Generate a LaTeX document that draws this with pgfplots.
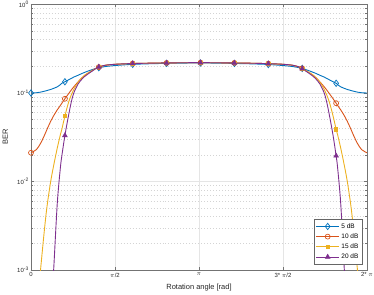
\documentclass[border=0pt]{standalone}
\usepackage{pgfplots}
\pgfplotsset{compat=1.18}
\usepackage{pgfplotstable}
\usepackage{fontspec}
\setmainfont{Liberation Sans}
\definecolor{c1}{rgb}{0,0.447,0.741}
\definecolor{c2}{rgb}{0.85,0.325,0.098}
\definecolor{c3}{rgb}{0.929,0.694,0.125}
\definecolor{c4}{rgb}{0.494,0.184,0.556}
\pgfplotstableread{
t s5 s10 s15 s20
0      0.1000 0.02113 1e-4     1e-8
0.1    0.1007 0.02291 3.16e-4  1e-7
0.178  0.1023 0.02692 0.001    1e-6
0.25   0.1047 0.03311 0.002818 1e-5
0.3    0.1067 0.03890 0.005248 3.98e-5
0.368  0.1096 0.04786 0.01     2.51e-4
0.43   0.1132 0.05623 0.01585  0.001175
0.492  0.1175 0.06457 0.02399  0.005754
0.55   0.1245 0.07244 0.03388  0.01445
0.577  0.1288 0.07674 0.03890  0.01950
0.634  0.1340 0.0861  0.05495  0.03311
0.7    0.1406 0.09772 0.07762  0.05495
0.754  0.1462 0.1084  0.09550  0.07943
0.8    0.1514 0.1175  0.1096   0.1
0.879  0.1585 0.1334  0.1318   0.1259
0.95   0.1660 0.1479  0.1479   0.1429
1.0    0.1706 0.1567  0.1585   0.1531
1.066  0.1770 0.1679  0.1679   0.1641
1.15   0.1841 0.1799  0.1799   0.1778
1.211  0.1897 0.1897  0.1897   0.1884
1.268  0.1932 0.1963  0.1972   0.1972
1.4    0.1995 0.2061  0.2065   0.2065
1.6    0.2051 0.2113  0.2118   0.2118
1.845  0.2099 0.2148  0.2148   0.2148
1.902  0.2109 0.2153  0.2153   0.2153
2.2    0.2138 0.2173  0.2173   0.2173
2.479  0.2158 0.2188  0.2188   0.2188
2.536  0.2163 0.2188  0.2188   0.2188
2.85   0.2178 0.2198  0.2198   0.2198
3.113  0.2183 0.2203  0.2203   0.2203
3.1416 0.2183 0.2203  0.2203   0.2203
3.170  0.2183 0.2203  0.2203   0.2203
3.433  0.2178 0.2198  0.2198   0.2198
3.747  0.2163 0.2188  0.2188   0.2188
3.804  0.2158 0.2188  0.2188   0.2188
4.083  0.2138 0.2173  0.2173   0.2173
4.381  0.2109 0.2153  0.2153   0.2153
4.438  0.2099 0.2148  0.2148   0.2148
4.683  0.2051 0.2113  0.2118   0.2118
4.883  0.1995 0.2061  0.2065   0.2065
5.015  0.1932 0.1963  0.1972   0.1972
5.072  0.1897 0.1897  0.1897   0.1884
5.133  0.1841 0.1799  0.1799   0.1778
5.217  0.1770 0.1679  0.1679   0.1641
5.283  0.1706 0.1567  0.1585   0.1531
5.333  0.1660 0.1479  0.1479   0.1429
5.404  0.1585 0.1334  0.1318   0.1259
5.483  0.1514 0.1175  0.1096   0.1
5.529  0.1462 0.1084  0.09550  0.07943
5.583  0.1406 0.09772 0.07762  0.05495
5.649  0.1340 0.0861  0.05495  0.03311
5.706  0.1288 0.07674 0.03890  0.01950
5.733  0.1245 0.07244 0.03388  0.01445
5.791  0.1175 0.06457 0.02399  0.005754
5.853  0.1132 0.05623 0.01585  0.001175
5.915  0.1096 0.04786 0.01     2.51e-4
5.983  0.1067 0.03890 0.005248 3.98e-5
6.033  0.1047 0.03311 0.002818 1e-5
6.105  0.1023 0.02692 0.001    1e-6
6.183  0.1007 0.02291 3.16e-4  1e-7
6.2832 0.1000 0.02113 1e-4     1e-8
}\data
\begin{document}
\begin{tikzpicture}
\path[use as bounding box] (-31bp,-25bp) rectangle (343bp,270bp);
\begin{axis}[
  scale only axis, width=336bp, height=265.5bp,
  at={(0,0)}, anchor=south west,
  xmin=0, xmax=6.2832, ymode=log, ymin=1e-3, ymax=1,
  xtick={0,1.5708,3.1416,4.7124,6.2832},
  xticklabels={0,$\pi$/2,$\pi$,3*~$\pi$/2,2*~$\pi$},
  ytick={1e-3,1e-2,1e-1,1},
  yticklabels={10\textsuperscript{-3},10\textsuperscript{-2},10\textsuperscript{-1},10\textsuperscript{0}},
  tick align=inside,
  xmajorgrids, ymajorgrids, yminorgrids,
  major grid style={black!10, line width=0.5pt},
  minor grid style={black!17, dash pattern=on 0.8pt off 2.2pt, line width=0.5pt},
  axis line style={black!55, line width=0.6pt},
  tick style={black!55, line width=0.5pt},
  major tick length=3bp, minor tick length=1.8bp,
  tick label style={font=\fontsize{6}{7}\selectfont, text=black!85},
  xticklabel style={inner sep=2.5pt},
  yticklabel style={inner sep=2pt},
  xlabel={Rotation angle [rad]}, ylabel={BER},
  label style={font=\fontsize{7.5}{9}\selectfont, text=black!85, inner sep=0pt},
  xlabel style={at={(axis description cs:0.5,-0.052)}, anchor=north},
  ylabel style={at={(axis description cs:-0.068,0.5)}, anchor=south},
  legend style={at={(axis description cs:0.987,0.0215)}, anchor=south east,
    font=\fontsize{6.5}{7.5}\selectfont, draw=black!60, line width=0.5pt,
    row sep=0pt, inner sep=2pt},
  legend cell align=left,
  legend image code/.code={\draw[#1, mark indices={2}] plot coordinates {(0cm,0cm) (0.4cm,0cm) (0.8cm,0cm)};},
  every axis plot/.append style={line width=0.9pt, smooth, tension=0.5},
]
\addplot[c1, mark=diamond, mark size=3.2pt, mark options={line width=0.7pt},
  mark indices={1,11,21,25,28,32,35,38,42,52}] table[x=t,y=s5] {\data};
\addlegendentry{5 dB}
\addplot[c2, mark=o, mark size=2.5pt, mark options={line width=0.7pt},
  mark indices={1,11,21,25,28,32,35,38,42,52}] table[x=t,y=s10] {\data};
\addlegendentry{10 dB}
\addplot[c3, mark=square*, mark size=1.6pt, mark options={line width=0.5pt},
  mark indices={9,19,23,26,30,33,36,40,50}] table[x=t,y=s15] {\data};
\addlegendentry{15 dB}
\addplot[c4, mark=triangle*, mark size=2.8pt, mark options={line width=0.5pt},
  mark indices={5,15,19,22,26,29,32,36,46}] table[x=t,y=s20] {\data};
\addlegendentry{20 dB}
\end{axis}
\end{tikzpicture}
\end{document}
